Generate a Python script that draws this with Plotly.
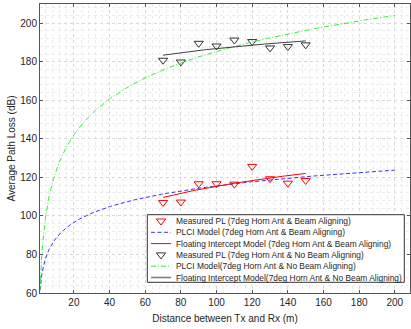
import numpy as np
import plotly.graph_objects as go

# Measured data
distance_m = [70, 80, 90, 100, 110, 120, 130, 140, 150]
pl_beam_aligned = [107.0, 107.2, 116.7, 116.7, 116.5, 125.7, 119.3, 117.0, 118.4]
pl_no_beam = [180.8, 179.9, 189.6, 188.2, 191.3, 190.5, 187.2, 187.9, 188.8]

# Model parameters
fspl_1m = 61.4           # dB, PLCI anchor at 1 m
n_plci_beam = 2.71       # PLE, beam aligning
n_plci_nobeam = 6.20     # PLE, no beam aligning
fi_beam = (39.9, 3.776)      # (alpha, beta) floating intercept, beam aligning
fi_nobeam = (142.1, 2.24)    # (alpha, beta) floating intercept, no beam aligning
plci_range = (1, 200)
fi_range = (70, 150)

x_ticks = [20, 40, 60, 80, 100, 120, 140, 160, 180, 200]
y_ticks = [60, 80, 100, 120, 140, 160, 180, 200]

x_title = "Distance between Tx and Rx (m)"
y_title = "Average Path Loss (dB)"
names = [
    "Measured PL (7deg Horn Ant & Beam Aligning)",
    "PLCI Model (7deg Horn Ant & Beam Aligning)",
    "Floating Intercept Model (7deg Horn Ant & Beam Aligning)",
    "Measured PL (7deg Horn Ant & No Beam Aligning)",
    "PLCI Model(7deg Horn Ant & No Beam Aligning)",
    "Floating Intercept Model(7deg Horn Ant & No Beam Aligning)",
]

RED = "#ff0000"
BLUE = "#3333ff"
GREEN = "#33ee33"
DARK = "#333333"
FI_DARK = "#404040"
BLUE_DASH = "4px,2.5px"
GREEN_DASH = "5px,2px,1px,2px"
TEXT = "#262626"
FONT = "Liberation Sans, Arial"

d_plci = np.logspace(np.log10(plci_range[0]), np.log10(plci_range[1]), 300)
d_fi = np.linspace(fi_range[0], fi_range[1], 50)

plci_beam = fspl_1m + 10 * n_plci_beam * np.log10(d_plci)
plci_nobeam = fspl_1m + 10 * n_plci_nobeam * np.log10(d_plci)
fi_beam_y = fi_beam[0] + 10 * fi_beam[1] * np.log10(d_fi)
fi_nobeam_y = fi_nobeam[0] + 10 * fi_nobeam[1] * np.log10(d_fi)

marker_beam = dict(symbol="triangle-down-open", size=8, color=RED, line=dict(width=1, color=RED))
marker_nobeam = dict(symbol="triangle-down-open", size=8, color=DARK, line=dict(width=1, color=DARK))

fig = go.Figure()
fig.add_trace(go.Scatter(x=distance_m, y=pl_beam_aligned, mode="markers", name=names[0],
                         marker=marker_beam))
fig.add_trace(go.Scatter(x=d_plci, y=plci_beam, mode="lines", name=names[1],
                         line=dict(color=BLUE, width=1, dash=BLUE_DASH)))
fig.add_trace(go.Scatter(x=d_fi, y=fi_beam_y, mode="lines", name=names[2],
                         line=dict(color=RED, width=1)))
fig.add_trace(go.Scatter(x=distance_m, y=pl_no_beam, mode="markers", name=names[3],
                         marker=marker_nobeam))
fig.add_trace(go.Scatter(x=d_plci, y=plci_nobeam, mode="lines", name=names[4],
                         line=dict(color=GREEN, width=1, dash=GREEN_DASH)))
fig.add_trace(go.Scatter(x=d_fi, y=fi_nobeam_y, mode="lines", name=names[5],
                         line=dict(color=FI_DARK, width=1)))

# ---- Manual legend (drawn on an overlay axis in plot-fraction coordinates) ----
plot_l, plot_r, plot_t, plot_b = 40, 410, 4, 293
def fx(px):
    return (px - plot_l) / (plot_r - plot_l)
def fy(py):
    return (plot_b - py) / (plot_b - plot_t)

box_l, box_r, box_t, box_b = 147.3, 404.3, 214.7, 282.3
row_y0, row_step = 221.0, 11.3
line_x0, line_x1, mark_x, text_x = 151, 171, 161, 173.5

fig.add_trace(go.Scatter(
    x=[fx(box_l), fx(box_r), fx(box_r), fx(box_l), fx(box_l)],
    y=[fy(box_t), fy(box_t), fy(box_b), fy(box_b), fy(box_t)],
    mode="lines", fill="toself", fillcolor="white",
    line=dict(color="#333333", width=1), xaxis="x2", yaxis="y2",
    showlegend=False, hoverinfo="skip"))

legend_styles = [
    ("marker", marker_beam),
    ("line", dict(color=BLUE, width=1, dash=BLUE_DASH)),
    ("line", dict(color=RED, width=1)),
    ("marker", marker_nobeam),
    ("line", dict(color=GREEN, width=1, dash=GREEN_DASH)),
    ("line", dict(color="#808080", width=1.6)),
]
for i, (kind, style) in enumerate(legend_styles):
    ry = fy(row_y0 + i * row_step)
    if kind == "marker":
        fig.add_trace(go.Scatter(x=[fx(mark_x)], y=[ry], mode="markers", marker=style,
                                 xaxis="x2", yaxis="y2", showlegend=False, hoverinfo="skip"))
    else:
        fig.add_trace(go.Scatter(x=[fx(line_x0), fx(line_x1)], y=[ry, ry], mode="lines",
                                 line=style, xaxis="x2", yaxis="y2",
                                 showlegend=False, hoverinfo="skip"))
    fig.add_annotation(x=fx(text_x), y=ry, xref="x2", yref="y2", text=names[i],
                       showarrow=False, xanchor="left", yanchor="middle",
                       font=dict(family=FONT, size=8.4, color=TEXT))

axis_common = dict(
    showline=True, linecolor="#555555", linewidth=1, mirror="ticks",
    ticks="inside", ticklen=3, tickcolor="#555555",
    showgrid=True, gridcolor="#d8d8d8", griddash="dot", gridwidth=1,
    zeroline=False,
    tickfont=dict(family=FONT, size=10, color=TEXT),
)
minor_grid = dict(dtick=4, tick0=0, showgrid=True, gridcolor="#ebebeb", griddash="dot", ticks="")

fig.update_layout(
    width=411, height=329,
    margin=dict(l=40, r=1, t=4, b=36),
    plot_bgcolor="white", paper_bgcolor="white",
    font=dict(family=FONT, color=TEXT),
    showlegend=False,
    xaxis=dict(range=[1, 208.5], tickvals=x_ticks, minor=minor_grid,
               title=dict(text=x_title, standoff=7,
                          font=dict(family=FONT, size=10, color=TEXT)),
               **axis_common),
    yaxis=dict(range=[60, 210], tickvals=y_ticks, minor=minor_grid,
               title=dict(text=y_title, standoff=2,
                          font=dict(family=FONT, size=10, color=TEXT)),
               **axis_common),
    xaxis2=dict(overlaying="x", anchor="y2", range=[0, 1], visible=False, fixedrange=True),
    yaxis2=dict(overlaying="y", anchor="x2", range=[0, 1], visible=False, fixedrange=True),
)

fig.write_html("out.html")
